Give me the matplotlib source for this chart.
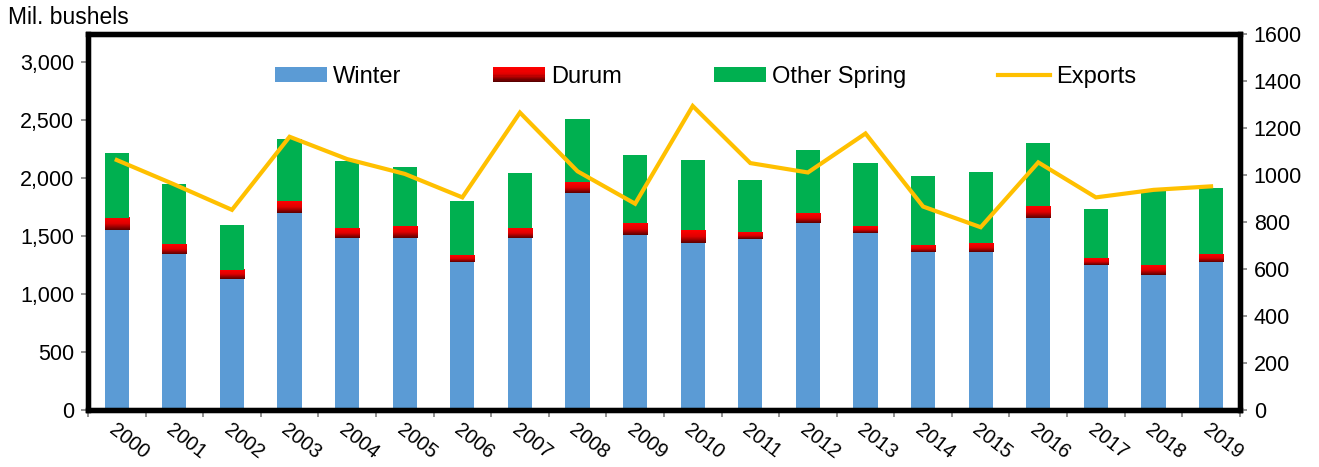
import numpy as np
import matplotlib
matplotlib.use("Agg")
import matplotlib.pyplot as plt
from matplotlib.colors import LinearSegmentedColormap
from matplotlib.patches import Rectangle
from matplotlib.legend_handler import HandlerBase
from matplotlib.lines import Line2D
from matplotlib.ticker import FuncFormatter, FixedLocator

plt.rcParams['font.family'] = ['Liberation Sans', 'DejaVu Sans']

years = [str(y) for y in range(2000, 2020)]
winter = [1549, 1343, 1125, 1701, 1486, 1486, 1280, 1486, 1873, 1512,
          1443, 1478, 1615, 1529, 1366, 1366, 1658, 1254, 1168, 1280]
durum = [109, 86, 80, 103, 86, 103, 60, 80, 88, 103,
         106, 60, 86, 60, 52, 77, 103, 60, 86, 63]
other_spring = [558, 516, 393, 536, 576, 507, 464, 479, 548, 584,
                607, 447, 541, 542, 601, 610, 541, 421, 636, 573]
exports = [1064, 960, 852, 1163, 1068, 1005, 905, 1266, 1016, 878,
           1294, 1051, 1011, 1177, 866, 778, 1054, 905, 937, 952]

C_WINTER = '#5B9BD5'
C_GREEN = '#00B050'
C_LINE = '#FFC000'
red_cmap = LinearSegmentedColormap.from_list('durum', ['#FF0000', '#E00000', '#5A0000'])

fig = plt.figure(figsize=(13.19, 4.67), dpi=100)
ax = fig.add_axes([0.0667, 0.122, 0.8733, 0.805])
ax2 = ax.twinx()

x = np.arange(len(years))
w = 0.42
winter_a = np.array(winter)
durum_a = np.array(durum)
other_a = np.array(other_spring)

ax.bar(x, winter_a, w, color=C_WINTER, zorder=2, linewidth=0)
# durum with vertical gradient
grad = np.linspace(0, 1, 64).reshape(-1, 1)
for xi, b, h in zip(x, winter_a, durum_a):
    ax.imshow(grad, extent=[xi - w / 2, xi + w / 2, b, b + h], origin='upper',
              aspect='auto', cmap=red_cmap, zorder=2, interpolation='bilinear')
ax.bar(x, other_a, w, bottom=winter_a + durum_a, color=C_GREEN, zorder=2, linewidth=0)

ax2.plot(x, exports, color=C_LINE, lw=3.0, solid_joinstyle='miter', zorder=3)

ax.set_xlim(-0.5, len(years) - 0.5)
ax.set_ylim(0, 3240)
ax2.set_ylim(0, 1600)

ax.set_yticks(np.arange(0, 3001, 500))
ax.yaxis.set_major_formatter(FuncFormatter(lambda v, p: f'{int(v):,}'))
ax2.set_yticks(np.arange(0, 1601, 200))

ax.set_xticks(x)
ax.set_xticklabels(years, rotation=-38, ha='left', va='top', rotation_mode='anchor')
ax.xaxis.set_minor_locator(FixedLocator(np.arange(-0.5, len(years), 1.0)))
ax.tick_params(axis='x', which='major', length=0, pad=7, labelsize=14.5)
ax.tick_params(axis='x', which='minor', length=5, width=1.2, color='#7f7f7f', direction='out')
ax.tick_params(axis='y', length=5, width=1.2, color='#7f7f7f', labelsize=15.5, pad=5)
ax2.tick_params(axis='y', length=5, width=1.2, color='#7f7f7f', labelsize=15.5, pad=5)

for a in (ax, ax2):
    for s in a.spines.values():
        s.set_linewidth(3.8)
        s.set_color('black')


class HandlerGradient(HandlerBase):
    def create_artists(self, legend, orig_handle, xdescent, ydescent, width,
                       height, fontsize, trans):
        n = 12
        arts = []
        for i in range(n):
            c = red_cmap(i / (n - 1))
            r = Rectangle((-xdescent, -ydescent + height * (n - 1 - i) / n), width, height / n + 0.3,
                          facecolor=c, edgecolor='none', transform=trans)
            arts.append(r)
        return arts


h_w = Rectangle((0, 0), 1, 1, facecolor=C_WINTER, edgecolor='none')
h_d = Rectangle((0, 0), 1, 1, facecolor='red', edgecolor='none')
h_g = Rectangle((0, 0), 1, 1, facecolor=C_GREEN, edgecolor='none')
h_e = Line2D([], [], color=C_LINE, lw=3.0)
leg = ax2.legend([h_w, h_d, h_g, h_e], ['Winter', 'Durum', 'Other Spring', 'Exports'],
                 handler_map={h_d: HandlerGradient()},
                 loc='center', bbox_to_anchor=(0.536, 0.886), ncol=4, frameon=False,
                 fontsize=17, handlelength=2.2, handleheight=0.61, handletextpad=0.25,
                 columnspacing=3.9)

fig.text(0.006, 0.962, 'Mil. bushels', fontsize=16.5, va='center', ha='left')

fig.savefig('out.png', dpi=100)
